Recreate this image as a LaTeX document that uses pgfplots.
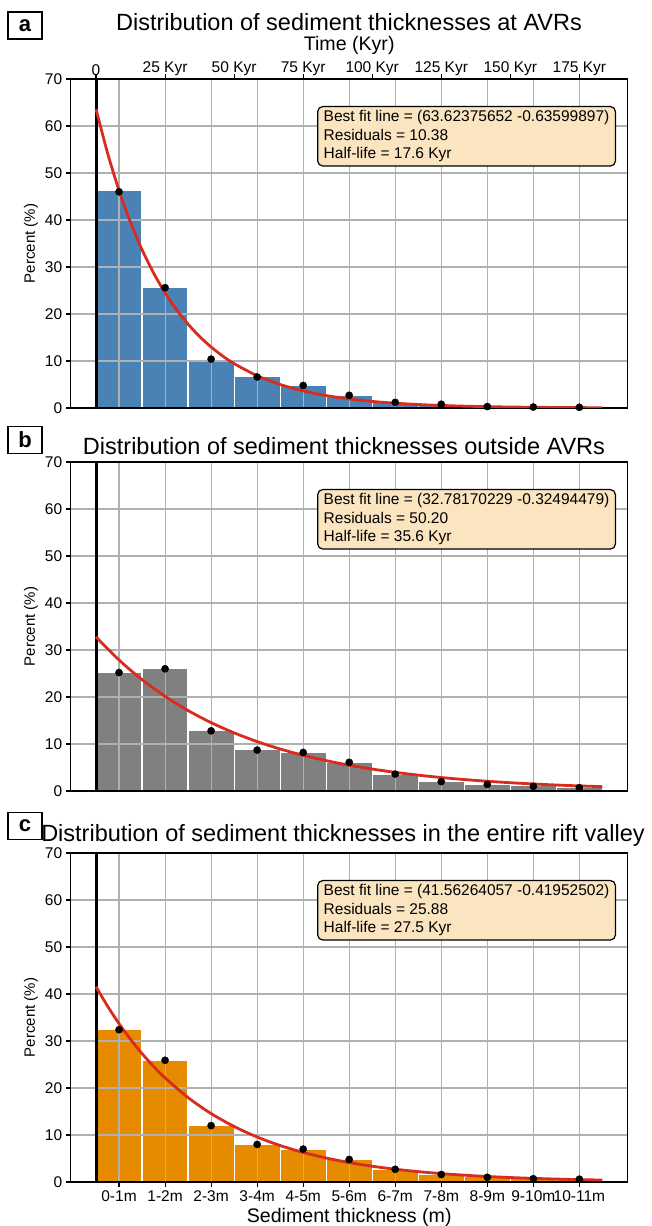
\documentclass[border=0pt]{standalone}
\usepackage{fontspec}
\setmainfont{Liberation Sans}
\usepackage{pgfplots}
\usepackage{pgfplotstable}
\pgfplotsset{compat=1.18}

\definecolor{barblue}{HTML}{4B82B6}
\definecolor{bargray}{HTML}{808080}
\definecolor{barorange}{HTML}{E68A00}
\definecolor{fitred}{HTML}{D92B1E}
\definecolor{gridgray}{HTML}{B0B0B0}
\definecolor{boxwheat}{HTML}{FAE5C0}

% bar heights (h) and black dots (d), categories 0-1m ... 10-11m at 0..10
\pgfplotstableread{
i h d
0 46.2 46.0
1 25.7 25.6
2 10.4 10.4
3 6.8 6.6
4 4.9 4.8
5 2.7 2.7
6 1.2 1.2
7 0.8 0.8
8 0.3 0.3
9 0.2 0.2
10 0.15 0.15
}\avrs
\pgfplotstableread{
i h d
0 25.2 25.2
1 26.0 26.0
2 12.9 12.8
3 8.8 8.7
4 8.2 8.2
5 6.1 6.1
6 3.6 3.6
7 2.0 2.0
8 1.4 1.4
9 1.1 1.0
10 0.8 0.7
}\outside
\pgfplotstableread{
i h d
0 32.5 32.4
1 25.9 25.9
2 12.1 12.0
3 8.0 8.0
4 7.0 7.0
5 4.8 4.8
6 2.7 2.7
7 1.7 1.6
8 1.15 1.0
9 0.75 0.7
10 0.55 0.6
}\entire

\tikzset{
  infobox/.style={anchor=north east, draw=black, line width=1.2pt, fill=boxwheat,
    rounded corners=5pt, align=left, inner xsep=6pt, inner ysep=4pt,
    font=\fontsize{15.5}{18.5}\selectfont},
  panellabel/.style={draw, line width=1.3pt, minimum width=34pt, minimum height=27pt,
    inner sep=0pt, font=\bfseries\fontsize{22}{26}\selectfont},
}
\pgfplotsset{
  panel/.style={
    scale only axis, width=557pt, height=329pt,
    anchor=north west,
    xmin=-1.05, xmax=11.05, ymin=0, ymax=70,
    xtick={0,...,10}, ytick={0,10,...,70},
    ytick pos=left, xtick pos=bottom,
    tick align=outside, major tick length=5pt,
    grid=major, major grid style={draw=gridgray, line width=1.1pt},
    axis line style={line width=1.4pt},
    tick style={line width=1.1pt, black},
    ticklabel style={font=\fontsize{15.5}{18}\selectfont},
    /pgf/number format/assume math mode=true,
    ylabel={Percent (\%)},
    ylabel style={font=\fontsize{15}{18}\selectfont},
    set layers,
  },
  bars/.style={ybar, bar width=1, bar shift=0pt, draw=white, line width=1.2pt,
    on layer=axis background},
  fitline/.style={no markers, smooth, draw=fitred, line width=2.8pt},
  dots/.style={only marks, mark=*, mark size=3.6pt, black},
  vline/.style={no markers, black, line width=3pt},
}

\begin{document}
\begin{tikzpicture}

% ---- a: AVRs
\begin{axis}[panel, at={(70.7pt,-79pt)}, xticklabels={}, xtick style={draw=none}]
  \addplot[bars, fill=barblue] table[x=i,y=h]{\avrs};
  \addplot[vline] coordinates {(-0.5,0) (-0.5,70)};
  \addplot[fitline] coordinates {
    (-0.5,63.62) (-0.25,54.27) (0,46.29) (0.25,39.49) (0.5,33.68) (0.75,28.73)
    (1,24.51) (1.25,20.91) (1.5,17.83) (1.75,15.21) (2,12.98) (2.25,11.07)
    (2.5,9.44) (3,6.87) (3.5,5.00) (4,3.64) (4.5,2.646) (5,1.925) (5.5,1.401)
    (6,1.019) (6.5,0.742) (7,0.540) (7.5,0.393) (8,0.286) (8.5,0.208)
    (9,0.151) (9.5,0.110) (10,0.080) (10.5,0.058)};
  \addplot[dots] table[x=i,y=d]{\avrs};
  \node[infobox] at (rel axis cs:0.979,0.918)
    {Best fit line = (63.62375652 -0.63599897)\\Residuals = 10.38\\Half-life = 17.6 Kyr};
\end{axis}
\begin{axis}[scale only axis, width=557pt, height=329pt, at={(70.7pt,-79pt)},
    anchor=north west, xmin=-1.05, xmax=11.05, ymin=0, ymax=70,
    axis x line*=top, hide y axis, axis line style={line width=1.4pt},
    xtick={-0.5,1,2.5,4,5.5,7,8.5,10},
    xticklabels={0,25 Kyr,50 Kyr,75 Kyr,100 Kyr,125 Kyr,150 Kyr,175 Kyr},
    tick align=outside, major tick length=5pt,
    tick style={line width=1.1pt, black},
    ticklabel style={font=\fontsize{15.5}{18}\selectfont},
    xticklabel style={yshift=-5pt},
    xlabel={Time (Kyr)},
    xlabel style={font=\fontsize{19.6}{23}\selectfont,
      at={(axis description cs:0.5,1)}, anchor=center, yshift=34pt}]
  \addplot[draw=none] coordinates {(0,0) (10,10)};
\end{axis}

% ---- b: outside AVRs
\begin{axis}[panel, at={(70.7pt,-462pt)}, xticklabels={}, xtick style={draw=none}]
  \addplot[bars, fill=bargray] table[x=i,y=h]{\outside};
  \addplot[vline] coordinates {(-0.5,0) (-0.5,70)};
  \addplot[fitline] coordinates {
    (-0.5,32.78) (0,27.87) (0.5,23.69) (1,20.14) (1.5,17.12) (2,14.55)
    (2.5,12.37) (3,10.51) (3.5,8.937) (4,7.597) (4.5,6.458) (5,5.490)
    (5.5,4.667) (6,3.967) (6.5,3.372) (7,2.866) (7.5,2.437) (8,2.071)
    (8.5,1.761) (9,1.497) (9.5,1.272) (10,1.082) (10.5,0.919)};
  \addplot[dots] table[x=i,y=d]{\outside};
  \node[infobox] at (rel axis cs:0.979,0.918)
    {Best fit line = (32.78170229 -0.32494479)\\Residuals = 50.20\\Half-life = 35.6 Kyr};
\end{axis}

% ---- c: entire rift valley
\begin{axis}[panel, at={(70.7pt,-853pt)},
    xticklabels={0-1m,1-2m,2-3m,3-4m,4-5m,5-6m,6-7m,7-8m,8-9m,9-10m,10-11m},
    xlabel={Sediment thickness (m)}, xlabel style={font=\fontsize{19.6}{23}\selectfont}]
  \addplot[bars, fill=barorange] table[x=i,y=h]{\entire};
  \addplot[vline] coordinates {(-0.5,0) (-0.5,70)};
  \addplot[fitline] coordinates {
    (-0.5,41.56) (-0.25,37.43) (0,33.70) (0.25,30.34) (0.5,27.32) (0.75,24.60)
    (1,22.15) (1.5,17.96) (2,14.56) (2.5,11.81) (3,9.573) (3.5,7.761)
    (4,6.293) (4.5,5.102) (5,4.137) (5.5,3.354) (6,2.719) (6.5,2.205)
    (7,1.788) (7.5,1.449) (8,1.175) (8.5,0.953) (9,0.773) (9.5,0.626)
    (10,0.508) (10.5,0.412)};
  \addplot[dots] table[x=i,y=d]{\entire};
  \node[infobox] at (rel axis cs:0.979,0.918)
    {Best fit line = (41.56264057 -0.41952502)\\Residuals = 25.88\\Half-life = 27.5 Kyr};
\end{axis}

% titles and panel letters
\begin{scope}[every node/.style={font=\fontsize{23.5}{28}\selectfont}]
  \node at (349pt,-22pt) {Distribution of sediment thicknesses at AVRs};
  \node at (344pt,-446pt) {Distribution of sediment thicknesses outside AVRs};
  \node at (343pt,-835pt) {Distribution of sediment thicknesses in the entire rift valley};
\end{scope}
\node[panellabel] at (25pt,-25.5pt) {a};
\node[panellabel] at (25pt,-440pt) {b};
\node[panellabel] at (25pt,-826pt) {c};

\pgfresetboundingbox
\path[use as bounding box] (0pt,0pt) rectangle (652pt,-1226pt);
\end{tikzpicture}
\end{document}
